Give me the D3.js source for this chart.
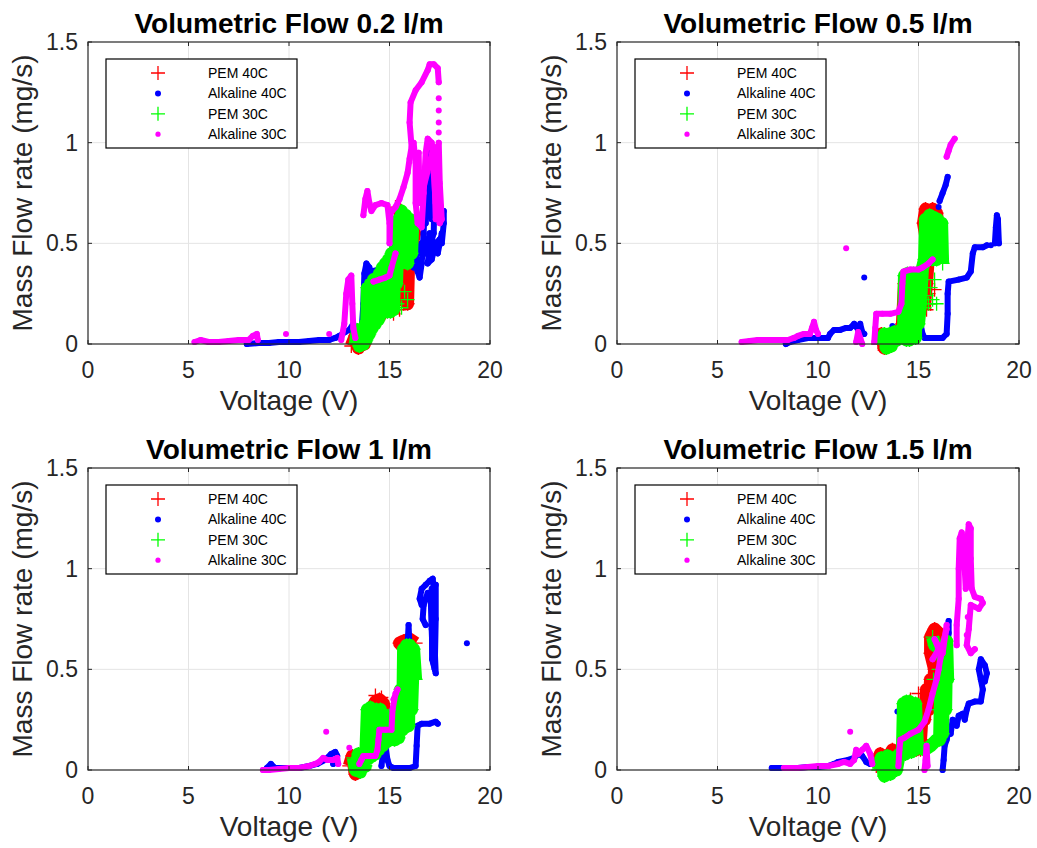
<!DOCTYPE html>
<html>
<head>
<meta charset="utf-8">
<script src="https://cdn.jsdelivr.net/npm/d3@7/dist/d3.min.js"></script>
<style>
  html, body { margin: 0; padding: 0; background: #fff; }
  svg { display: block; }
  text { font-family: "Liberation Sans", Arial, Helvetica, sans-serif; }
</style>
</head>
<body>
<svg id="chart" width="1037" height="848"></svg>
<script>
// ---- axis and legend text ----
const titles = ["Volumetric Flow 0.2 l/m", "Volumetric Flow 0.5 l/m", "Volumetric Flow 1 l/m", "Volumetric Flow 1.5 l/m"];
const seriesNames = ["PEM 40C", "Alkaline 40C", "PEM 30C", "Alkaline 30C"];
const xTicks = [0, 5, 10, 15, 20];
const yTicks = [0, 0.5, 1, 1.5];
const xLabel = "Voltage (V)";
const yLabel = "Mass Flow rate (mg/s)";

// ---- measured samples: each series is a list of sweeps [voltage V, mass flow mg/s] ----
// 0.2 l/m
const pem40_f02 = [
  [[13.1,-0.01],[13.3,0.04],[13.45,-0.02],[13.6,0.05],[13.75,0.0],[13.9,0.06],[14.0,0.08],[14.2,0.1],[14.4,0.12],[14.6,0.15],[14.8,0.18],[15.0,0.2],[15.1,0.28],[15.3,0.3],[15.5,0.22],[15.6,0.28],[15.8,0.3],[15.9,0.2],[15.95,0.4],[16.1,0.48],[16.25,0.55],[16.0,0.6],[15.7,0.63],[15.5,0.66],[15.3,0.68]],
  [[15.2,0.15]],[[15.2,0.22]],[[15.3,0.27]],[[15.5,0.17]],[[15.5,0.25]],[[15.7,0.2]],[[15.7,0.31]],[[15.85,0.24]],[[15.4,0.52]],[[15.7,0.51]]
];
const alk40_f02 = [
  [[7.9,0.0],[8.5,0.005],[9.0,0.005],[9.5,0.01],[10.0,0.01],[10.5,0.01],[11.0,0.015],[11.5,0.02],[12.0,0.02],[12.3,0.03],[12.5,0.04],[12.8,0.06],[13.0,0.07],[13.2,0.1],[13.25,0.05]],
  [[13.6,0.05],[13.7,0.2],[13.75,0.35],[13.85,0.4],[14.0,0.38],[14.0,0.3],[14.1,0.36],[14.5,0.37],[14.9,0.38],[15.0,0.43],[15.3,0.45],[15.5,0.48],[15.8,0.52],[16.0,0.5],[16.1,0.42],[16.2,0.38],[16.3,0.45],[16.4,0.36],[16.5,0.33],[16.6,0.4],[16.7,0.55],[16.75,0.7],[16.85,0.85],[16.9,0.96],[17.0,0.9],[17.0,0.75],[17.1,0.62],[17.2,0.7],[17.25,0.8],[17.2,0.55],[17.0,0.48],[16.9,0.4],[17.1,0.42],[17.3,0.5],[17.5,0.52],[17.6,0.5],[17.7,0.6],[17.7,0.66]],
  [[16.0,0.45],[16.2,0.5],[16.4,0.45],[16.6,0.5],[16.8,0.45],[17.0,0.55],[17.2,0.5],[17.4,0.45],[17.6,0.55]],
  [[16.8,0.6],[16.9,0.75],[17.0,0.82],[16.95,0.65]]
];
const pem30_f02 = [
  [[13.3,0.0],[13.4,0.07],[13.5,-0.01],[13.6,0.07],[13.7,0.0],[13.8,0.1],[13.85,0.02],[13.9,0.28],[14.0,0.05],[14.05,0.3],[14.15,0.08],[14.2,0.32],[14.3,0.1],[14.35,0.3],[14.45,0.12],[14.5,0.35],[14.6,0.15],[14.65,0.38],[14.75,0.16],[14.8,0.4],[14.9,0.16],[14.95,0.42],[15.05,0.16],[15.1,0.45],[15.2,0.17],[15.3,0.5],[15.35,0.3],[15.45,0.62],[15.55,0.4],[15.6,0.66],[15.7,0.42],[15.8,0.64],[15.9,0.4],[16.0,0.62],[16.1,0.45],[16.15,0.58]],
  [[15.4,0.2]],[[15.6,0.18]],[[15.75,0.26]],[[15.9,0.22]]
];
const alk30_f02 = [
  [[5.3,0.01],[5.6,0.02],[6.0,0.01],[6.5,0.01],[7.0,0.015],[7.5,0.02],[8.0,0.02],[8.2,0.04],[8.4,0.05],[8.45,0.02]],
  [[9.85,0.05]],[[12.0,0.05]],
  [[12.6,0.02],[12.75,0.1],[12.85,0.25],[12.95,0.32],[13.1,0.34],[13.15,0.2],[13.2,0.08],[13.3,0.03]],
  [[14.2,0.31],[14.5,0.32],[14.8,0.33],[15.0,0.34],[15.1,0.38],[15.3,0.45]],
  [[13.7,0.64],[13.8,0.72],[13.9,0.76],[14.0,0.7],[14.1,0.66],[14.3,0.69],[14.6,0.7],[14.9,0.69],[15.0,0.6],[15.0,0.5],[15.05,0.65],[15.3,0.68],[15.5,0.72],[15.7,0.78],[15.9,0.85],[16.0,0.92],[16.1,0.98],[16.0,1.1],[16.05,1.2],[16.3,1.26],[16.6,1.3],[16.9,1.36],[17.0,1.39],[17.2,1.39],[17.4,1.37],[17.45,1.3]],
  [[17.45,1.22]],[[17.45,1.16]],[[17.45,1.1]],[[17.45,1.05]],
  [[16.2,1.0],[16.3,0.9],[16.3,0.7],[16.4,0.6],[16.6,0.58],[16.7,0.75],[16.8,0.95],[16.9,1.02],[17.1,1.0],[17.2,0.85],[17.3,0.7],[17.5,0.6],[17.6,0.62],[17.5,0.8],[17.45,1.0]],
  [[16.45,0.95],[16.5,0.7],[17.2,0.98],[17.3,0.62]]
];

// 0.5 l/m
const pem40_f05 = [
  [[13.0,0.0],[13.15,0.05],[13.3,-0.02],[13.45,0.04],[13.6,-0.01],[13.8,0.06],[14.0,0.04],[14.2,0.1],[14.3,0.3],[14.5,0.32],[14.6,0.1],[14.8,0.05],[15.0,0.3],[15.2,0.35],[15.3,0.2],[15.4,0.3],[15.5,0.45],[15.25,0.6],[15.35,0.67],[15.5,0.62],[15.7,0.67],[15.9,0.65],[16.0,0.55],[15.8,0.5]],
  [[15.4,0.17]],[[15.5,0.25]],[[15.6,0.2]],[[15.8,0.27]],[[15.5,0.49]],[[15.8,0.47]]
];
const alk40_f05 = [
  [[8.4,0.0],[8.6,0.01],[9.0,0.02],[9.5,0.03],[10.0,0.03],[10.5,0.03],[10.6,0.05],[10.8,0.07],[11.1,0.07],[11.4,0.08],[11.6,0.08],[11.8,0.1],[12.0,0.07],[12.1,0.1],[12.2,0.06],[12.3,0.05]],
  [[12.3,0.33]],[[13.7,0.09]],
  [[15.1,0.1],[15.2,0.05],[15.3,0.03],[15.8,0.03],[16.2,0.03],[16.4,0.05],[16.45,0.15],[16.45,0.25],[16.5,0.31],[17.0,0.32],[17.4,0.33],[17.6,0.36],[17.7,0.45],[17.8,0.48],[18.2,0.48],[18.4,0.49]],
  [[18.6,0.49]],
  [[18.8,0.5],[18.85,0.58],[18.9,0.64],[18.95,0.62],[19.0,0.5]],
  [[16.05,0.71],[16.2,0.75],[16.35,0.79],[16.45,0.83]],
  [[16.0,0.68]]
];
const pem30_f05 = [
  [[13.15,0.0],[13.3,0.05],[13.4,-0.02],[13.55,0.05],[13.65,-0.01],[13.8,0.06],[13.95,0.02],[14.1,0.07],[14.25,0.03],[14.3,0.34],[14.4,0.02],[14.45,0.35],[14.55,0.02],[14.6,0.34],[14.7,0.03],[14.75,0.35],[14.85,0.03],[14.9,0.33],[15.0,0.1],[15.1,0.2],[15.2,0.38],[15.3,0.42],[15.35,0.62],[15.5,0.42],[15.55,0.64],[15.7,0.42],[15.75,0.63],[15.9,0.42],[15.95,0.62],[16.1,0.45],[16.15,0.6],[16.2,0.4]],
  [[15.3,0.18]],[[15.4,0.24]],[[15.5,0.2]],[[15.6,0.28]],[[15.7,0.22]],[[15.8,0.32]],[[15.9,0.2]],[[15.5,0.5]],[[15.8,0.52]]
];
const alk30_f05 = [
  [[6.2,0.01],[6.6,0.015],[7.0,0.02],[7.5,0.02],[8.0,0.02],[8.5,0.02],[8.8,0.03],[9.0,0.04],[9.3,0.05],[9.6,0.05],[9.7,0.08],[9.8,0.11],[9.9,0.07],[10.0,0.05]],
  [[11.4,0.475]],
  [[11.9,0.01],[12.0,0.06],[12.1,0.03],[12.2,0.0]],
  [[12.8,0.01],[12.85,0.08],[12.9,0.15],[13.2,0.15],[13.6,0.15],[14.0,0.16],[14.15,0.2],[14.2,0.3],[14.25,0.36],[14.6,0.37],[15.0,0.37],[15.2,0.38],[15.5,0.4],[15.7,0.42]],
  [[16.4,0.93],[16.5,0.96],[16.6,0.99],[16.8,1.02]]
];

// 1 l/m
const pem40_f1 = [
  [[13.0,0.02],[13.15,0.07],[13.3,-0.02],[13.5,0.04],[13.7,0.05],[13.9,0.1],[14.1,0.3],[14.3,0.34],[14.5,0.35],[14.7,0.33],[14.8,0.2],[15.0,0.22],[15.2,0.28],[15.4,0.25],[15.6,0.2],[15.8,0.3],[15.9,0.5],[15.8,0.6],[15.5,0.63],[15.7,0.64],[16.0,0.65],[16.3,0.63]],
  [[15.4,0.22]],[[15.5,0.28]],[[15.7,0.25]],[[16.1,0.48]],[[15.9,0.27]],[[14.3,0.37]],[[14.6,0.36]]
];
const alk40_f1 = [
  [[8.9,0.01],[9.1,0.03],[9.3,0.01],[10.0,0.01],[10.5,0.01],[11.0,0.02],[11.4,0.03],[11.8,0.05],[12.1,0.08],[12.3,0.09],[12.4,0.07],[12.2,0.03]],
  [[13.9,0.05],[13.95,0.2],[14.0,0.32],[14.1,0.25],[14.2,0.1]],
  [[14.6,0.02],[14.7,0.1],[14.75,0.15],[14.9,0.05],[15.0,0.02],[15.2,0.01],[15.6,0.01],[16.0,0.01],[16.3,0.02],[16.35,0.12],[16.4,0.22],[16.6,0.23],[17.0,0.23],[17.3,0.24],[17.4,0.23]],
  [[15.85,0.52],[15.9,0.62],[15.95,0.72],[16.0,0.6]],
  [[16.6,0.82],[16.5,0.85],[16.6,0.9],[16.8,0.92],[17.0,0.94],[17.15,0.95],[17.2,0.9],[17.2,0.75],[17.25,0.6],[17.3,0.48],[17.15,0.55],[17.1,0.7],[17.05,0.85],[16.9,0.88],[16.7,0.82],[16.65,0.75],[16.8,0.72]],
  [[17.1,0.9],[17.12,0.55],[17.25,0.5],[17.3,0.75],[17.3,0.92]],
  [[18.85,0.63]]
];
const pem30_f1 = [
  [[13.2,0.06],[13.3,0.0],[13.45,0.08],[13.55,-0.01],[13.7,0.07],[13.8,0.02],[13.9,0.3],[14.0,0.06],[14.05,0.31],[14.15,0.07],[14.2,0.3],[14.3,0.08],[14.35,0.3],[14.45,0.1],[14.55,0.3],[14.65,0.12],[14.75,0.27],[14.85,0.14],[14.95,0.27],[15.05,0.15],[15.15,0.26],[15.25,0.15],[15.35,0.25],[15.45,0.16],[15.55,0.4],[15.65,0.2],[15.7,0.6],[15.8,0.22],[15.85,0.62],[15.95,0.22],[16.0,0.62],[16.1,0.3],[16.2,0.6],[16.3,0.45]]
];
const alk30_f1 = [
  [[8.7,0.0],[9.0,0.0],[9.5,0.005],[10.0,0.01],[10.5,0.01],[11.0,0.02],[11.3,0.03],[11.5,0.04],[11.7,0.06],[11.9,0.05],[12.2,0.05],[12.4,0.06],[12.45,0.03]],
  [[11.85,0.19]],[[13.0,0.11]],
  [[13.5,0.03],[13.6,0.05],[13.7,0.07],[14.0,0.07],[14.3,0.07],[14.4,0.1],[14.45,0.15],[14.5,0.2],[14.8,0.2],[15.1,0.2],[15.15,0.3],[15.3,0.38],[15.4,0.4],[15.2,0.35]]
];

// 1.5 l/m
const pem40_f15 = [
  [[12.9,0.02],[13.1,0.08],[13.3,0.0],[13.5,0.06],[13.7,0.1],[13.85,0.03],[14.0,0.08],[14.3,0.1],[14.9,0.1],[15.0,0.25],[15.1,0.15],[15.2,0.3],[15.3,0.25],[15.4,0.4],[15.5,0.3],[15.6,0.45],[15.7,0.38],[15.8,0.5],[15.6,0.58],[15.6,0.66],[15.8,0.7],[16.0,0.68],[16.1,0.62]],
  [[14.6,0.35]],[[14.8,0.26]],[[14.9,0.15]],[[15.1,0.1]],[[15.0,0.38]],[[15.3,0.15]]
];
const alk40_f15 = [
  [[7.7,0.01],[8.0,0.01],[8.5,0.01],[9.0,0.01],[9.5,0.015],[10.0,0.015],[10.5,0.02],[10.8,0.03],[11.0,0.04],[11.5,0.05],[11.8,0.06],[12.0,0.08],[12.2,0.07],[12.4,0.04],[12.6,0.03],[12.9,0.04],[13.2,0.02]],
  [[13.95,0.29]],
  [[16.2,0.0],[16.25,0.05],[16.3,0.12],[16.4,0.15],[16.5,0.2],[16.6,0.18],[16.7,0.25],[16.9,0.22],[17.0,0.27],[17.2,0.28],[17.3,0.25],[17.4,0.3],[17.5,0.33],[17.8,0.34],[18.1,0.34],[18.2,0.4],[18.1,0.45],[18.0,0.5],[18.1,0.55],[18.3,0.52],[18.4,0.48],[18.3,0.44]],
  [[16.45,0.63],[16.5,0.68],[16.5,0.74]]
];
const pem30_f15 = [
  [[13.0,0.0],[13.15,0.06],[13.3,-0.03],[13.45,0.07],[13.6,-0.02],[13.75,0.06],[13.9,0.0],[14.05,0.08],[14.2,0.09],[14.25,0.33],[14.35,0.08],[14.4,0.34],[14.5,0.09],[14.55,0.34],[14.65,0.09],[14.7,0.33],[14.8,0.1],[14.85,0.33],[14.95,0.12],[15.3,0.1],[15.6,0.12],[15.9,0.15],[16.05,0.15],[16.1,0.4],[16.2,0.18],[16.25,0.62],[16.35,0.3],[16.4,0.64],[16.45,0.45],[16.1,0.6],[15.8,0.62],[15.7,0.66]],
  [[15.9,0.3]],[[16.0,0.5]],[[15.75,0.45]]
];
const alk30_f15 = [
  [[8.3,0.01],[8.7,0.01],[9.0,0.01],[9.5,0.015],[10.0,0.02],[10.5,0.02],[11.0,0.03],[11.3,0.04],[11.6,0.03],[11.8,0.05],[11.9,0.1],[12.0,0.08],[12.2,0.1],[12.4,0.12],[12.6,0.08],[12.7,0.03]],
  [[11.6,0.19]],
  [[14.0,0.02],[14.05,0.1],[14.1,0.15],[14.3,0.16],[14.6,0.18],[15.0,0.2],[15.3,0.24],[15.5,0.3],[15.7,0.38],[15.9,0.45],[16.0,0.5],[16.1,0.56],[16.2,0.62],[16.3,0.66],[16.4,0.7]],
  [[15.7,0.55],[16.0,0.6],[15.8,0.65],[16.2,0.58],[16.4,0.72]],
  [[15.3,0.0],[15.35,0.05],[15.4,0.12],[15.45,0.02]],
  [[16.9,0.62],[16.9,0.72],[17.0,0.85],[17.0,1.0],[17.05,1.15],[17.15,1.18],[17.25,1.1],[17.3,1.0],[17.35,0.9],[17.4,1.1],[17.5,1.22],[17.6,1.2],[17.6,1.05],[17.65,0.9],[17.8,0.86],[18.1,0.85],[18.2,0.83],[18.0,0.8],[17.6,0.82],[17.5,0.7],[17.4,0.62],[17.6,0.58],[17.8,0.6]],
  [[17.45,0.76]],[[17.4,0.67]]
];

// ---- panels built from the arrays above ----
const panels = [
  { title: titles[0], series: [pem40_f02, alk40_f02, pem30_f02, alk30_f02], left: 88,  top: 42 },
  { title: titles[1], series: [pem40_f05, alk40_f05, pem30_f05, alk30_f05], left: 617, top: 42 },
  { title: titles[2], series: [pem40_f1,  alk40_f1,  pem30_f1,  alk30_f1 ], left: 88,  top: 468 },
  { title: titles[3], series: [pem40_f15, alk40_f15, pem30_f15, alk30_f15], left: 617, top: 468 }
];
const styles = [
  { color: "#ff0000", kind: "plus", legendSize: 7 },
  { color: "#0000ff", kind: "dot",  legendSize: 3 },
  { color: "#00ff00", kind: "plus", legendSize: 7 },
  { color: "#ff00ff", kind: "dot",  legendSize: 2.6 }
];

const W = 402, H = 302;
const axisColor = "#262626";
const svg = d3.select("#chart");
svg.append("rect").attr("width", 1037).attr("height", 848).attr("fill", "#fff");

function plusPath(cx, cy, r) {
  return `M${cx - r},${cy}H${cx + r}M${cx},${cy - r}V${cy + r}`;
}

panels.forEach(p => {
  const g = svg.append("g").attr("transform", `translate(${p.left},${p.top})`);
  const x = d3.scaleLinear().domain([0, 20]).range([0, W]);
  const y = d3.scaleLinear().domain([0, 1.5]).range([H, 0]);

  // grid
  g.append("g").selectAll("line").data(xTicks.slice(1, -1)).join("line")
    .attr("x1", d => x(d)).attr("x2", d => x(d)).attr("y1", 0).attr("y2", H)
    .attr("stroke", "#e4e4e4").attr("stroke-width", 1);
  g.append("g").selectAll("line").data(yTicks.slice(1, -1)).join("line")
    .attr("y1", d => y(d)).attr("y2", d => y(d)).attr("x1", 0).attr("x2", W)
    .attr("stroke", "#e4e4e4").attr("stroke-width", 1);

  // data: dense sweeps drawn as thick traces with their markers
  const line = d3.line().x(d => x(d[0])).y(d => y(d[1]));
  p.series.forEach((traces, si) => {
    const st = styles[si];
    const sg = g.append("g");
    traces.forEach(tr => {
      if (tr.length > 1) {
        sg.append("path").attr("d", line(tr)).attr("fill", "none")
          .attr("stroke", st.color)
          .attr("stroke-width", st.kind === "plus" ? 13 : 6)
          .attr("stroke-linejoin", "round")
          .attr("stroke-linecap", st.kind === "plus" ? "butt" : "round");
      }
      if (st.kind === "plus") {
        sg.selectAll(null).data(tr).join("path")
          .attr("d", d => plusPath(x(d[0]), y(d[1]), 7))
          .attr("stroke", st.color).attr("stroke-width", 1.3).attr("fill", "none");
      } else {
        sg.selectAll(null).data(tr).join("circle")
          .attr("cx", d => x(d[0])).attr("cy", d => y(d[1])).attr("r", 3)
          .attr("fill", st.color);
      }
    });
  });

  // box and inward ticks on all sides
  g.append("rect").attr("width", W).attr("height", H).attr("fill", "none")
    .attr("stroke", axisColor).attr("stroke-width", 1.2);
  const tl = 4;
  xTicks.forEach(t => {
    g.append("line").attr("x1", x(t)).attr("x2", x(t)).attr("y1", H).attr("y2", H - tl).attr("stroke", axisColor);
    g.append("line").attr("x1", x(t)).attr("x2", x(t)).attr("y1", 0).attr("y2", tl).attr("stroke", axisColor);
  });
  yTicks.forEach(t => {
    g.append("line").attr("y1", y(t)).attr("y2", y(t)).attr("x1", 0).attr("x2", tl).attr("stroke", axisColor);
    g.append("line").attr("y1", y(t)).attr("y2", y(t)).attr("x1", W).attr("x2", W - tl).attr("stroke", axisColor);
  });

  // tick labels
  g.append("g").selectAll("text").data(xTicks).join("text")
    .attr("x", d => x(d)).attr("y", H + 34).attr("text-anchor", "middle")
    .attr("font-size", 23).attr("fill", axisColor).text(d => String(d));
  g.append("g").selectAll("text").data(yTicks).join("text")
    .attr("x", -10).attr("y", d => y(d) + 8).attr("text-anchor", "end")
    .attr("font-size", 23).attr("fill", axisColor).text(d => String(d));

  // labels and title
  g.append("text").attr("x", W / 2).attr("y", H + 66).attr("text-anchor", "middle")
    .attr("font-size", 28).attr("fill", axisColor).text(xLabel);
  g.append("text").attr("transform", `translate(-56,${H / 2}) rotate(-90)`)
    .attr("text-anchor", "middle").attr("font-size", 28).attr("fill", axisColor).text(yLabel);
  g.append("text").attr("x", W / 2).attr("y", -9).attr("text-anchor", "middle")
    .attr("font-size", 28).attr("font-weight", "bold").attr("fill", "#000").text(p.title);

  // legend
  const lg = g.append("g").attr("transform", "translate(18,17)");
  lg.append("rect").attr("width", 191).attr("height", 89).attr("fill", "#fff")
    .attr("stroke", "#000").attr("stroke-width", 1.2);
  seriesNames.forEach((name, i) => {
    const ly = 14 + i * 20.4;
    const st = styles[i];
    if (st.kind === "plus") {
      lg.append("path").attr("d", plusPath(52, ly, st.legendSize))
        .attr("stroke", st.color).attr("stroke-width", 1.3).attr("fill", "none");
    } else {
      lg.append("circle").attr("cx", 52).attr("cy", ly).attr("r", st.legendSize).attr("fill", st.color);
    }
    lg.append("text").attr("x", 102).attr("y", ly + 5).attr("font-size", 14)
      .attr("fill", "#000").text(name);
  });
});
</script>
</body>
</html>
